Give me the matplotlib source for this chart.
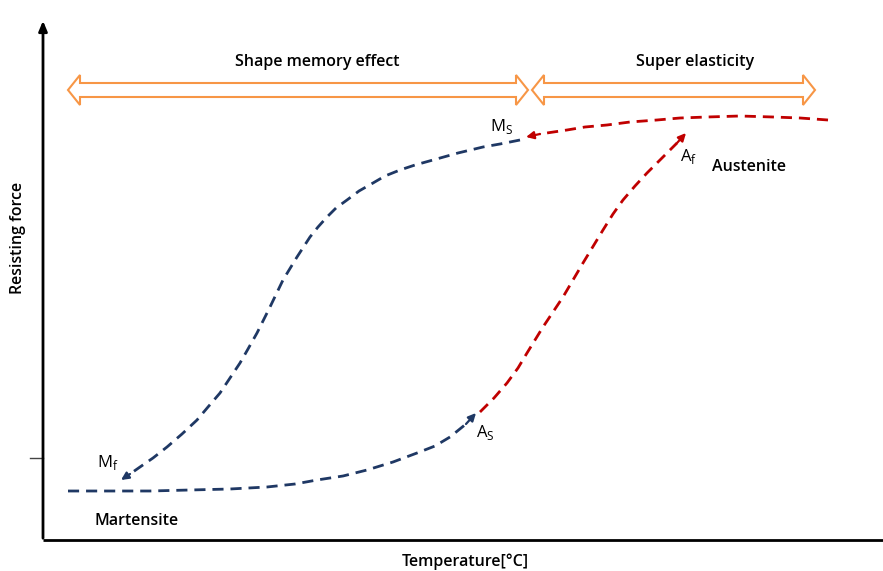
import numpy as np
from matplotlib import pyplot as plt
from matplotlib.patches import Polygon

# curve points (pixel coords, y down)
blue_low_x = [68, 150, 190, 230, 267, 295, 317, 343, 367, 393, 417, 435, 450, 466, 476]
blue_low_y = [491, 491, 490, 489, 487, 484, 480, 476, 470, 462, 453, 446, 437, 424, 413]

red_up_x = [480, 494, 507, 518, 527, 543, 553, 563, 573, 583, 603, 613, 623, 635, 647, 667, 677, 686]
red_up_y = [412, 398, 383, 368, 353, 327, 312, 297, 280, 263, 230, 214, 200, 186, 173, 153, 143, 133]

red_top_x = [828, 800, 773, 740, 707, 680, 657, 630, 607, 585, 567, 540, 526]
red_top_y = [120, 118, 117, 116, 117, 118, 120, 122, 125, 127, 130, 134, 137]

blue_top_x = [520, 500, 483, 458, 433, 415, 400, 385, 373, 359, 347, 336, 327, 318, 310, 297, 283, 270,
              257, 248, 240, 230, 220, 208, 197, 182, 167, 153, 140, 130, 121]
blue_top_y = [140, 144, 147, 153, 160, 165, 170, 176, 183, 191, 200, 208, 217, 227, 237, 257, 280, 307,
              333, 349, 363, 378, 393, 407, 420, 434, 447, 458, 467, 474, 480]

band_names = ["Shape memory effect", "Super elasticity"]
band_x0 = [68, 532]
band_x1 = [528, 815]
band_label_x = [317, 695]

navy = '#1F3864'
red = '#C00000'
orange = '#F79646'

plt.rcParams['font.family'] = ['Open Sans', 'DejaVu Sans']
fig = plt.figure(figsize=(8.83, 5.71), dpi=100)
ax = fig.add_axes([0, 0, 1, 1])
ax.set_xlim(0, 883)
ax.set_ylim(571, 0)
ax.axis('off')

# axes of the diagram
ax.plot([43, 883], [540, 540], color='black', lw=2, solid_capstyle='butt')
ax.annotate('', xy=(43, 18), xytext=(43, 541),
            arrowprops=dict(arrowstyle='-|>,head_length=0.6,head_width=0.25', color='black', lw=2))
ax.plot([30, 43], [458, 458], color='#444444', lw=1)


def curve(xs, ys, c):
    ax.plot(xs[:-1], ys[:-1], color=c, lw=2, dashes=(4, 2.5), solid_joinstyle='round')
    ax.annotate('', xy=(xs[-1], ys[-1]), xytext=(xs[-2], ys[-2]),
                arrowprops=dict(arrowstyle='-|>,head_length=0.45,head_width=0.22',
                                color=c, lw=1.6, shrinkA=0, shrinkB=0))


curve(blue_low_x, blue_low_y, navy)
curve(red_up_x, red_up_y, red)
curve(red_top_x, red_top_y, red)
curve(blue_top_x, blue_top_y, navy)

# hollow double arrows
yc, sh, hh, hl = 90, 7, 15, 12
for name, x0, x1, lx in zip(band_names, band_x0, band_x1, band_label_x):
    pts = [(x0, yc), (x0 + hl, yc - hh), (x0 + hl, yc - sh), (x1 - hl, yc - sh),
           (x1 - hl, yc - hh), (x1, yc), (x1 - hl, yc + hh), (x1 - hl, yc + sh),
           (x0 + hl, yc + sh), (x0 + hl, yc + hh)]
    ax.add_patch(Polygon(pts, closed=True, fc='white', ec=orange, lw=1.5))
    ax.text(lx, 62, name, ha='center', va='center', fontsize=11.5, fontweight='semibold')

lab = dict(fontsize=12, va='center', ha='left', color='black')
ax.text(490, 126, r'M$_\mathregular{S}$', **lab)
ax.text(97, 462, r'M$_\mathregular{f}$', **lab)
ax.text(476, 432, r'A$_\mathregular{S}$', **lab)
ax.text(680, 156, r'A$_\mathregular{f}$', **lab)
ax.text(712, 167, 'Austenite', fontsize=11.5, fontweight='semibold', va='center')
ax.text(94, 521, 'Martensite', fontsize=11.5, fontweight='semibold', va='center')
ax.text(465, 562, 'Temperature[°C]', fontsize=11.5, fontweight='semibold', ha='center', va='center')
ax.text(18, 238, 'Resisting force', fontsize=11.5, fontweight='semibold', ha='center', va='center',
        rotation=90)

fig.savefig('out.png', dpi=100)
